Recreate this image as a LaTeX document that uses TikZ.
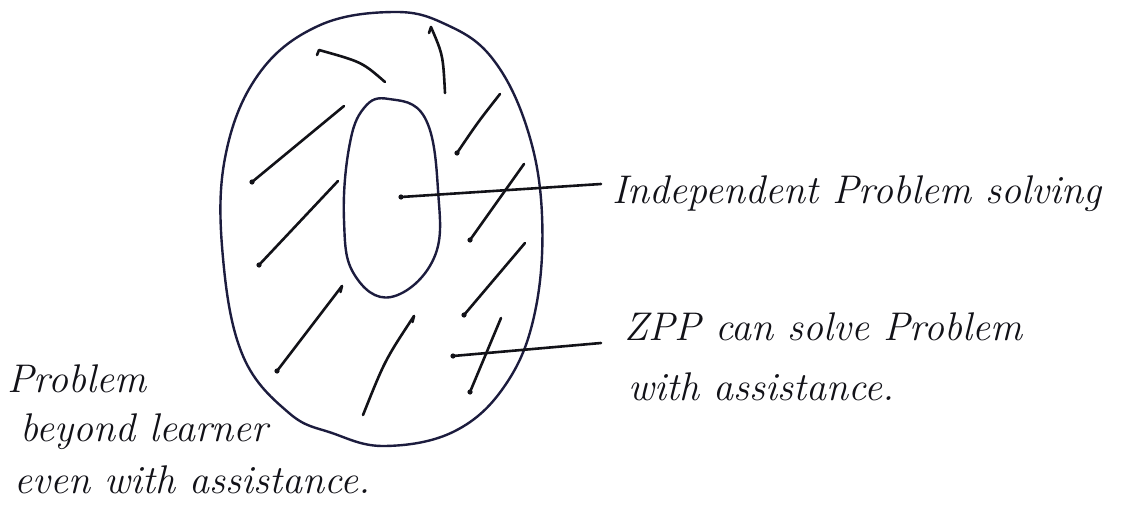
\documentclass[tikz,border=0pt]{standalone}
\usepackage{fontspec}
\definecolor{navyink}{RGB}{28,28,62}
\definecolor{penink}{RGB}{18,18,24}
\begin{document}
\begin{tikzpicture}[x=1pt,y=-1pt,
  outline/.style={line width=2.4pt, draw=navyink, line cap=round, line join=round},
  pen/.style={line width=2.6pt, draw=penink, line cap=round, line join=round},
  pendot/.style={fill=penink, draw=none},
  hand/.style={font=\fontsize{40}{48}\selectfont\itshape, inner sep=0pt, anchor=base west, text=penink}]
\useasboundingbox (0,0) rectangle (1143,506);
\fill[white] (0,0) rectangle (1143,506);

% outer zone (ZPP)
\draw[outline] plot[smooth cycle, tension=0.65] coordinates {
  (393,12) (445,24) (492,58) (527,128) (542,215) (535,312) (506,384)
  (455,431) (385,446) (332,433) (289,413) (243,356) (223,258) (225,158)
  (258,75) (318,26)};

% inner zone (independent)
\draw[outline] plot[smooth cycle, tension=0.7] coordinates {
  (389,99) (425,118) (438,190) (434,258) (391,297) (354,274) (344,220)
  (349,148) (364,108)};

% hatch strokes
\coordinate (s1a) at (385,82);  \coordinate (s1b) at (319,50);
\coordinate (s2a) at (445,93);  \coordinate (s2b) at (431,27);
\coordinate (s3a) at (344,106); \coordinate (s3b) at (252,182);
\coordinate (s4a) at (338,181); \coordinate (s4b) at (259,265);
\coordinate (s5a) at (342,286); \coordinate (s5b) at (277,371);
\coordinate (s6a) at (414,316); \coordinate (s6b) at (363,415);
\coordinate (s7a) at (500,94);  \coordinate (s7b) at (457,153);
\coordinate (s8a) at (524,164); \coordinate (s8b) at (470,240);
\coordinate (s9a) at (525,243); \coordinate (s9b) at (464,315);
\coordinate (s10a) at (501,318); \coordinate (s10b) at (470,392);

\draw[pen] (s1a) .. controls (362,62) .. (s1b) -- ++(-2,5);
\draw[pen] (s2a) .. controls (443,55) .. (s2b) -- ++(-2,6);
\draw[pen] (s3a) -- (s3b);
\draw[pen] (s4a) -- (s4b);
\draw[pen] (s5a) -- (s5b);
\draw[pen] (s5a) -- ++(-1.5,6);
\draw[pen] (s6a) .. controls (385,360) .. (s6b);
\draw[pen] (s6a) -- ++(-1.5,6);
\draw[pen] (s7a) .. controls (478,122) .. (s7b);
\draw[pen] (s8a) -- (s8b);
\draw[pen] (s9a) -- (s9b);
\draw[pen] (s10a) -- (s10b);
\foreach \p in {s3b,s4b,s5b,s7b,s8b,s9b,s10b}{\fill[pendot] (\p) circle (2.6pt);}

% labels
\node[hand] (t1) at (612,203) {Independent Problem solving};
\node[hand] (t2) at (624,340) {ZPP can solve Problem};
\node[hand] (t3) at (628,400) {with assistance.};
\node[hand] (l1) at (7,392) {Problem};
\node[hand] (l2) at (20,441) {beyond learner};
\node[hand] (l3) at (14,493) {even with assistance.};

% connectors
\coordinate (c1) at (401,197); \coordinate (e1) at (601,184);
\coordinate (c2) at (453,356); \coordinate (e2) at (601,343);
\draw[pen] (c1) -- (e1);
\draw[pen] (c2) -- (e2);
\fill[pendot] (c1) circle (2.6pt);
\fill[pendot] (c2) circle (2.6pt);
\end{tikzpicture}
\end{document}
